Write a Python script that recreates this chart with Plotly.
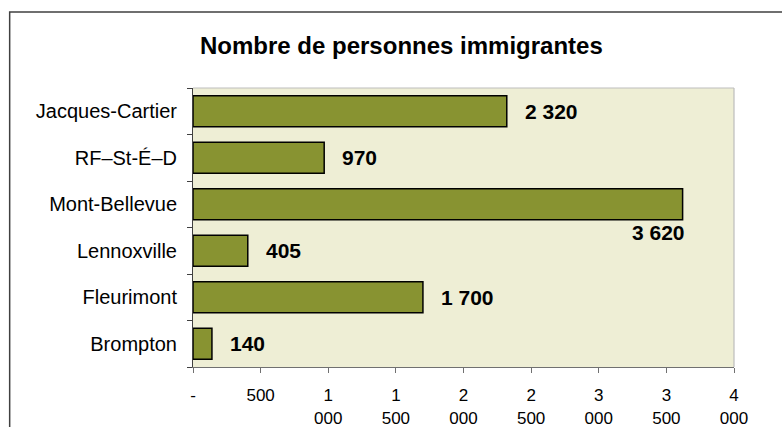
import plotly.graph_objects as go

categories = ["Jacques-Cartier", "RF\u2013St-\u00c9\u2013D", "Mont-Bellevue", "Lennoxville", "Fleurimont", "Brompton"]
values = [2320, 970, 3620, 405, 1700, 140]
value_labels = ["2 320", "970", "3 620", "405", "1 700", "140"]
tick_vals = [0, 500, 1000, 1500, 2000, 2500, 3000, 3500, 4000]
tick_text = ["-", "500", "1<br>000", "1<br>500", "2<br>000", "2<br>500", "3<br>000", "3<br>500", "4<br>000"]
title_text = "Nombre de personnes immigrantes"

W, H = 782, 427
# target plot area in pixels
PX0, PX1, PY0, PY1 = 193, 734.5, 88, 366.7
L, R, T, B = PX0, W - PX1, PY0, H - PY1
PW, PH = W - L - R, H - T - B


def px_x(p):
    return (p - L) / PW


def px_y(p):
    return 1 - (p - T) / PH


FONT = "Liberation Sans, Arial"

fig = go.Figure()
fig.add_trace(go.Bar(
    y=categories, x=values, orientation="h",
    marker=dict(color="#889331", line=dict(color="#000000", width=1.5)),
    hoverinfo="skip",
))

annotations = []
for c, v, t in zip(categories, values, value_labels):
    if v > 3000:
        annotations.append(dict(x=v, y=c, xref="x", yref="y", text="<b>%s</b>" % t,
                                showarrow=False, xanchor="center", yanchor="middle",
                                xshift=-24, yshift=-28,
                                font=dict(family=FONT, size=21, color="#000")))
    else:
        annotations.append(dict(x=v, y=c, xref="x", yref="y", text="<b>%s</b>" % t,
                                showarrow=False, xanchor="left", yanchor="middle",
                                xshift=16,
                                font=dict(family=FONT, size=21, color="#000")))

annotations.append(dict(x=px_x(401.5), y=px_y(46), xref="paper", yref="paper",
                        text="<b>%s</b>" % title_text, showarrow=False,
                        xanchor="center", yanchor="middle",
                        font=dict(family=FONT, size=24, color="#000")))

shapes = [
    # outer frame
    dict(type="rect", xref="paper", yref="paper",
         x0=px_x(9.5), x1=px_x(820), y0=px_y(470), y1=px_y(12),
         line=dict(color="#404040", width=1.5), fillcolor="rgba(0,0,0,0)", layer="below"),
    # top and right plot-area border
    dict(type="line", xref="x domain", yref="y domain", x0=0, x1=1, y0=1, y1=1,
         line=dict(color="#BDBDBD", width=1.2)),
    dict(type="line", xref="x domain", yref="y domain", x0=1, x1=1, y0=0, y1=1,
         line=dict(color="#BDBDBD", width=1.2)),
]

fig.update_layout(
    width=W, height=H,
    margin=dict(l=L, r=R, t=T, b=B, pad=0, autoexpand=False),
    paper_bgcolor="#FFFFFF",
    plot_bgcolor="#EEEED5",
    bargap=0.33,
    showlegend=False,
    annotations=annotations,
    shapes=shapes,
    font=dict(family=FONT, color="#000"),
)
fig.update_xaxes(
    range=[0, 4000], tickmode="array", tickvals=tick_vals, ticktext=tick_text,
    ticks="outside", ticklen=5, tickcolor="#707070", tickwidth=1,
    showline=True, linecolor="#707070", linewidth=1,
    showgrid=False, zeroline=False, automargin=False,
    tickfont=dict(family=FONT, size=17, color="#000"),
    ticklabelstandoff=8, fixedrange=True,
)
fig.update_yaxes(
    categoryorder="array", categoryarray=categories[::-1],
    ticks="outside", ticklen=5, tickcolor="#404040", tickwidth=1, tickson="boundaries",
    showline=True, linecolor="#404040", linewidth=1,
    showgrid=False, zeroline=False, automargin=False,
    tickfont=dict(family=FONT, size=20, color="#000"),
    ticklabelstandoff=11, fixedrange=True,
)

fig.write_html(
    "out.html",
    config={"displayModeBar": False},
    post_script="document.body.style.margin='0';document.body.style.overflow='hidden';",
)
